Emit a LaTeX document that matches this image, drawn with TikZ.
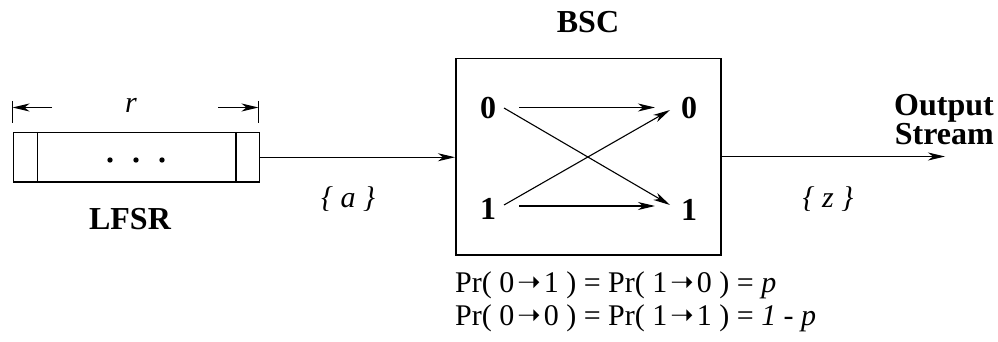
\documentclass[tikz,border=0pt]{standalone}
\usepackage{fontspec}
\setmainfont{Liberation Serif}
\newfontfamily\arrowfont{DejaVu Sans}
\newcommand{\parr}{\hspace{3pt}\raisebox{0.5pt}{\arrowfont\fontsize{28}{28}\selectfont ➝}\hspace{3pt}}
\usetikzlibrary{arrows.meta,calc}
\begin{document}
\begin{tikzpicture}[x=1pt,y=-1pt,
  box/.style={draw,line width=1.5pt},
  thin/.style={line width=1.1pt},
  arr/.style={line width=1.1pt,-{Stealth[length=17pt,width=8pt,inset=5pt]}},
  lbl/.style={font=\fontsize{32}{29}\selectfont\bfseries, inner sep=0},
  txt/.style={font=\fontsize{30}{34}\selectfont, inner sep=0}]
\useasboundingbox (0,0) rectangle (998,342);
% LFSR register
\node[box, minimum width=246pt, minimum height=49pt, inner sep=0, anchor=north west] (lfsr) at (12.5,132) {};
\draw[box] ([xshift=25pt]lfsr.north west) -- ([xshift=25pt]lfsr.south west);
\draw[box] ([xshift=-24pt]lfsr.north east) -- ([xshift=-24pt]lfsr.south east);
\fill (110,160) circle (2.7pt) (136,160) circle (2.7pt) (162,160) circle (2.7pt);
% dimension r
\coordinate (tl1) at (12.5,101);
\coordinate (tl2) at (12.5,123);
\coordinate (tr1) at (258.5,101);
\coordinate (tr2) at (258.5,123);
\draw[thin] (tl1) -- (tl2);
\draw[thin] (tr1) -- (tr2);
\coordinate (al) at (52,107.5);
\coordinate (ar) at (218,107.5);
\draw[arr] (al) -- (al -| tl1);
\draw[arr] (ar) -- (ar -| tr1);
\node[txt, font=\fontsize{30}{34}\selectfont\itshape] (r) at (131,105) {r};
\node[lbl] (lfsrlbl) at (130,219) {LFSR};
% BSC
\node[box, minimum width=265pt, minimum height=196pt, inner sep=0, anchor=north west] (bsc) at (455,58) {};
\node[lbl] (bsclbl) at (588,22) {BSC};
\node[lbl] (l0) at (488,108) {0};
\node[lbl] (l1) at (488,209) {1};
\node[lbl] (r0) at (689,108) {0};
\node[lbl] (r1) at (689,210) {1};
\coordinate (h0s) at (519,107.5);
\coordinate (h0e) at (655,107.5);
\coordinate (h1s) at (519,206);
\coordinate (h1e) at (655,206);
\draw[arr] (h0s) -- (h0e);
\draw[arr] (h1s) -- (h1e);
\coordinate (c0s) at (504,108);
\coordinate (c0e) at (670,205);
\coordinate (c1s) at (504,205);
\coordinate (c1e) at (670,110);
\draw[arr] (c0s) -- (c0e);
\draw[arr] (c1s) -- (c1e);
% connectors
\draw[arr] (lfsr.east) -- (lfsr.east -| bsc.west);
\coordinate (out) at (945,156.5);
\draw[arr] (out -| bsc.east) -- (out);
\node[txt, font=\fontsize{30}{34}\selectfont\itshape] (a) at (348,199) {\{ a \}};
\node[txt, font=\fontsize{30}{34}\selectfont\itshape] (z) at (828,199) {\{ z \}};
\node[lbl, align=right, anchor=east] (outlbl) at (994,120) {Output\\Stream};
% probabilities
\node[txt, anchor=west] (p1) at (455,285) {Pr( 0\parr1 ) = Pr( 1\parr0 ) = \textit{p}};
\node[txt, anchor=west] (p2) at (455,318) {Pr( 0\parr0 ) = Pr( 1\parr1 ) = \textit{1 - p}};
\end{tikzpicture}
\end{document}
